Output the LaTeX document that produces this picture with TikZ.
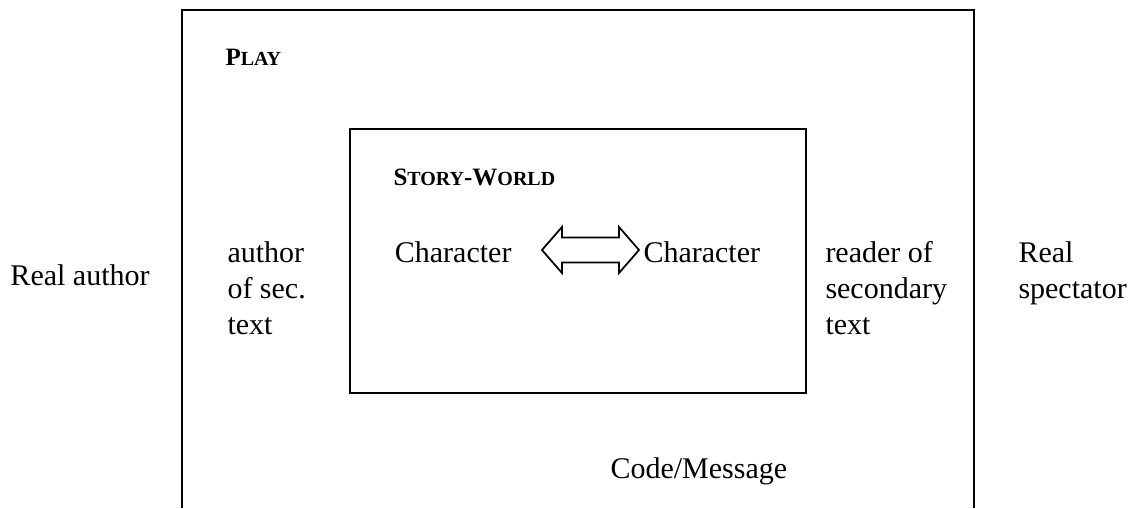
\documentclass[tikz,border=0pt]{standalone}
\usepackage{fontspec}
\setmainfont{Liberation Serif}
\usetikzlibrary{positioning}
\tikzset{>=stealth}
% fake small capitals for the headings
\newcommand{\smcap}[1]{{\fontsize{8}{9}\selectfont #1}}

\begin{document}
\begin{tikzpicture}[x=0.4pt,y=-0.4pt,
        txt/.style={inner sep=0pt, font=\fontsize{12}{14.4}\selectfont, align=left},
        heading/.style={inner sep=0pt, font=\fontsize{10}{12}\selectfont\bfseries},
        boxline/.style={line width=0.8pt}]
    \useasboundingbox (0,0) rectangle (1136,508);

    % the play, open at the bottom
    \draw[boxline] (182,508) -- (182,10) -- (974,10) -- (974,508);
    % the story-world inside it
    \draw[boxline] (350,129) rectangle (806,393);

    \node[heading, anchor=base west] (play) at (225,65) {P\smcap{LAY}};
    \node[heading, anchor=base west] (world) at (393,185) {S\smcap{TORY}-W\smcap{ORLD}};

    % multi-line nodes sit on the baseline of their last line
    \node[txt, anchor=base west] (realauth) at (10,285) {Real author};
    \node[txt, anchor=base west] (secauth) at (227,334) {author\\of sec.\\text};
    \node[txt, anchor=base east] (charA) at (512,262) {Character};
    \node[txt, anchor=base west] (charB) at (643,262) {Character};
    \node[txt, anchor=base west] (secread) at (825,334) {reader of\\secondary\\text};
    \node[txt, anchor=base west] (realspec) at (1018,298) {Real\\spectator};
    \node[txt, anchor=base west] (code) at (610,478) {Code/Message};

    % double block arrow between the characters
    \coordinate (arr) at (590.5,250);
    \draw[line width=0.7pt, shift={(arr)}]
        (-48.5,0) -- (-28.5,-23) -- (-28.5,-12.5) -- (28.5,-12.5) -- (28.5,-23)
        -- (48.5,0) -- (28.5,23) -- (28.5,12.5) -- (-28.5,12.5) -- (-28.5,23) -- cycle;
\end{tikzpicture}
\end{document}
